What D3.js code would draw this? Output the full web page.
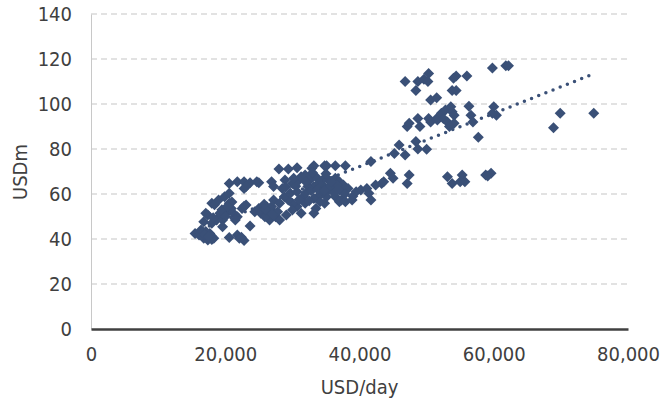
<!DOCTYPE html>
<html>
<head>
<meta charset="utf-8">
<script src="https://cdn.jsdelivr.net/npm/d3@7"></script>
<style>
  html, body { margin: 0; padding: 0; background: #fff; }
  svg text { font-family: "DejaVu Sans Condensed", "DejaVu Sans", sans-serif; font-stretch: condensed; fill: #404040; }
</style>
</head>
<body>
<svg id="chart" width="665" height="403"></svg>
<script>
// Daily rate (USD/day) against value (USDm), one entry per observation
const rateUsdPerDay = [
  15500,16100,16800,17400,17700,18300,17900,17100,16400,16900,18000,17500,20600,21800,22100,22800,22400,
  16800,17400,17100,18000,18700,19600,19600,19200,20200,21200,20900,20600,18000,18400,19000,19900,20600,
  21800,21500,22500,23100,22800,23700,18200,19500,20000,21000,20300,
  20600,21800,22800,23700,24700,25000,22800,23100,
  24400,25000,25600,25300,26200,26600,25900,26900,27500,26900,27200,28100,27800,28100,29100,26000,27000,25800,
  28000,29400,30700,32900,33200,34800,35100,36400,37900,
  26900,27200,28500,28900,30000,31000,31300,31900,32600,33500,34500,35400,36400,37000,37600,38300,37000,36000,
  35100,34500,33800,33200,34100,34800,33500,33200,31300,30700,30000,29400,28800,29700,30700,31600,32300,33200,
  34500,35700,36700,35100,36400,37300,31900,30000,32000,32800,33800,35500,36200,34000,32500,31000,30500,29000,
  34800,35800,36800,37800,32000,33000,30200,35000,
  37000,37900,38900,39500,40200,41100,42400,43300,43600,44600,45000,41400,41700,41700,39000,
  45200,45900,46800,48400,48700,50000,47100,47400,49000,48700,
  47100,47400,53100,53800,55300,55700,55000,58800,59600,59100,
  50300,50600,51500,51600,52200,52800,53600,53800,54100,52500,53100,54100,53400,56300,56600,56900,57700,
  46800,48400,48700,49600,50300,50200,50600,51500,53800,54400,54400,54000,56000,59800,61800,62200,
  60000,60400,59800,69900,68900,74900
];
const valueUsdm = [
  42.5,41.8,40.3,39.6,42.5,40.3,41.5,43.3,44.0,42.0,39.8,41.0,40.7,41.8,40.3,39.3,40.8,
  47.7,50.7,51.4,47.0,48.4,48.4,45.5,51.4,51.4,51.4,53.6,55.9,55.9,55.2,57.3,58.8,60.3,
  49.9,48.4,53.6,55.1,54.6,45.8,49.5,53.0,50.0,56.5,54.5,
  64.7,65.5,65.5,65.0,65.5,65.0,62.5,63.3,
  52.1,53.6,54.4,51.4,51.4,48.4,49.9,52.9,49.9,54.4,57.3,55.9,52.1,48.4,50.7,53.0,51.0,55.5,
  71.1,71.1,71.7,71.4,72.6,72.6,72.6,72.6,72.6,
  65.5,63.3,62.5,66.2,64.7,66.2,67.7,68.4,66.2,67.7,66.2,66.2,67.0,65.5,64.0,62.5,61.8,62.5,
  61.0,60.3,58.8,58.0,56.6,55.9,53.6,51.4,51.4,54.4,55.9,57.3,58.8,60.3,61.0,58.8,63.3,63.3,
  64.0,64.0,64.0,58.8,58.8,57.3,55.9,52.9,60.5,61.5,62.0,63.0,60.5,65.0,57.0,57.5,63.5,63.0,
  61.5,65.5,62.0,60.0,65.5,69.5,67.0,69.0,
  56.6,56.6,57.3,61.0,61.8,62.5,64.0,64.7,65.5,69.2,67.0,60.3,57.3,74.4,59.0,
  78.0,81.8,77.3,83.3,80.0,79.9,90.0,91.4,90.0,93.6,
  64.7,68.4,67.7,64.7,68.4,65.5,65.5,68.4,69.2,68.0,
  93.6,92.0,93.6,92.9,95.9,97.3,98.8,96.6,95.0,93.6,92.0,91.4,90.0,99.0,95.0,92.0,85.2,
  110.0,106.0,110.0,111.0,113.6,110.0,101.8,102.8,106.0,106.0,112.4,111.4,112.4,116.0,117.0,117.0,
  98.8,95.0,95.9,95.9,89.5,95.9
];
const xTicks = [0, 20000, 40000, 60000, 80000];
const yTicks = [0, 20, 40, 60, 80, 100, 120, 140];
const xTitle = "USD/day";
const yTitle = "USDm";

const points = rateUsdPerDay.map((x, i) => ({ x, y: valueUsdm[i] }));

const svg = d3.select("#chart");
const plot = { left: 91, right: 628, top: 14, bottom: 329 };
const fontSize = 20;

const x = d3.scaleLinear().domain([0, 80000]).range([plot.left, plot.right]);
const y = d3.scaleLinear().domain([0, 140]).range([plot.bottom, plot.top]);

// Dashed horizontal gridlines
svg.append("g")
  .selectAll("line")
  .data(yTicks.filter(t => t > 0))
  .join("line")
  .attr("x1", plot.left).attr("x2", plot.right)
  .attr("y1", d => y(d)).attr("y2", d => y(d))
  .attr("stroke", "#d9d9d9")
  .attr("stroke-width", 1.5)
  .attr("stroke-dasharray", "6,4");

// Y axis: light vertical rule with labels on the left
const yAxis = svg.append("g")
  .attr("transform", `translate(${plot.left},0)`)
  .call(d3.axisLeft(y).tickValues(yTicks).tickSize(0).tickPadding(19));
yAxis.select(".domain").attr("stroke", "#c8c8c8").attr("stroke-width", 1);
yAxis.selectAll("text").attr("font-size", fontSize).attr("fill", "#404040");

// X axis: dark baseline with comma-grouped labels
const xAxis = svg.append("g")
  .attr("transform", `translate(0,${plot.bottom})`)
  .call(d3.axisBottom(x).tickValues(xTicks).tickSize(0).tickPadding(18).tickFormat(d3.format(",")));
xAxis.select(".domain").attr("stroke", "#404040").attr("stroke-width", 2.5);
xAxis.selectAll("text").attr("font-size", fontSize).attr("fill", "#404040");

// Scatter markers: rotated squares
const diamond = "M0,-5.5L5.5,0L0,5.5L-5.5,0Z";
svg.append("g")
  .selectAll("path")
  .data(points)
  .join("path")
  .attr("d", diamond)
  .attr("transform", d => `translate(${x(d.x)},${y(d.y)})`)
  .attr("fill", "#3a5077");

// Linear least-squares trendline across the data range
const mx = d3.mean(points, d => d.x), my = d3.mean(points, d => d.y);
const slope = d3.sum(points, d => (d.x - mx) * (d.y - my)) / d3.sum(points, d => (d.x - mx) ** 2);
const intercept = my - slope * mx;
const [xMin, xMax] = d3.extent(points, d => d.x);
svg.append("path")
  .datum([xMin, xMax])
  .attr("d", d3.line().x(d => x(d)).y(d => y(intercept + slope * d)))
  .attr("fill", "none")
  .attr("stroke", "#3a5077")
  .attr("stroke-width", 3.5)
  .attr("stroke-linecap", "round")
  .attr("stroke-dasharray", "0,7.7");

// Axis titles
svg.append("text")
  .attr("x", (plot.left + plot.right) / 2)
  .attr("y", 394)
  .attr("text-anchor", "middle")
  .attr("font-size", fontSize)
  .text(xTitle);
svg.append("text")
  .attr("transform", `translate(27,172) rotate(-90)`)
  .attr("text-anchor", "middle")
  .attr("font-size", fontSize)
  .text(yTitle);
</script>
</body>
</html>
